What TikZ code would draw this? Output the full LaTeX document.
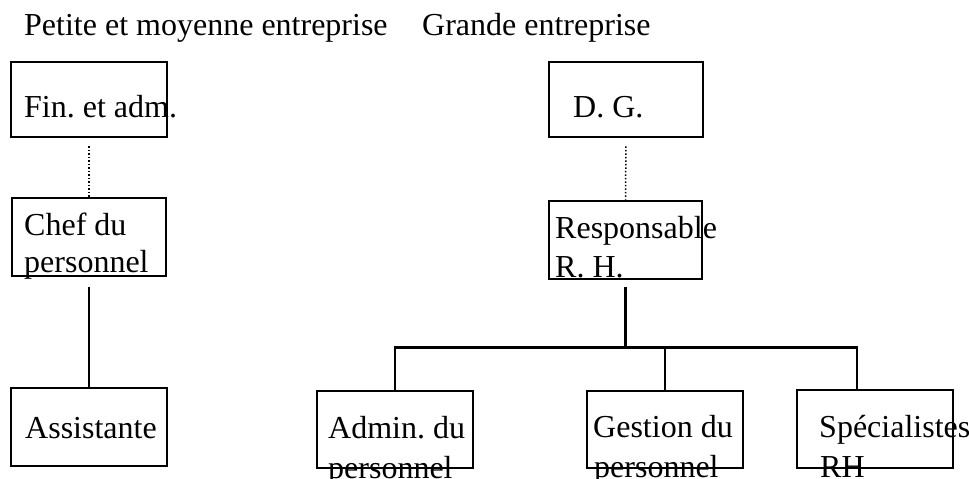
\documentclass[tikz,border=0pt]{standalone}
\usepackage{fontspec}
\setmainfont{Liberation Serif}
\frenchspacing
\begin{document}
\begin{tikzpicture}[x=1pt,y=-1pt,
  box/.style={draw=black, line width=2.8pt, rectangle, inner sep=0pt},
  lbl/.style={anchor=base west, inner sep=0pt, font=\fontsize{32}{38}\selectfont\frenchspacing},
  conn/.style={draw=black, line width=2.8pt},
  dotline/.style={draw=black, line width=1.5pt, dash pattern=on 1.5pt off 2pt, shorten <=8pt}]
\fill[white] (0,0) rectangle (969,479);
\useasboundingbox (0,0) rectangle (969,479);
% titles
\node[lbl] (tpme) at (24,35) {Petite et moyenne entreprise};
\node[lbl] (tge) at (422,35) {Grande entreprise};
% boxes
\node[box, minimum width=156pt, minimum height=75pt] (fin) at (89,99.5) {};
\node[box, minimum width=154pt, minimum height=78pt] (chef) at (89,237) {};
\node[box, minimum width=156pt, minimum height=78pt] (assist) at (89,427) {};
\node[box, minimum width=154pt, minimum height=75pt] (dg) at (626,99.5) {};
\node[box, minimum width=153pt, minimum height=78pt] (resp) at (625.5,240) {};
\node[box, minimum width=156pt, minimum height=77pt] (admin) at (395,429.5) {};
\node[box, minimum width=156pt, minimum height=77pt] (gestion) at (665,429.5) {};
\node[box, minimum width=156pt, minimum height=78pt] (spec) at (875,429) {};
% texts
\node[lbl] (finT) at (24,117) {Fin. et adm.};
\node[lbl] (dgT) at (573,117) {D. G.};
\node[lbl] (chefT1) at (24,235) {Chef du};
\node[lbl] (chefT2) at (24,272) {personnel};
\node[lbl] (respT1) at (555,238) {Responsable};
\node[lbl] (respT2) at (555,277) {R. H.};
\node[lbl] (assistT) at (25,438) {Assistante};
\node[lbl] (adminT1) at (328,438) {Admin. du};
\node[lbl] (adminT2) at (328,478) {personnel};
\node[lbl] (gestT1) at (593,437) {Gestion du};
\node[lbl] (gestT2) at (594,477) {personnel};
\node[lbl] (specT1) at (819,437) {Spécialistes};
\node[lbl] (specT2) at (820,477) {RH};
% connectors
\draw[dotline] (fin.south) -- (chef.north);
\draw[dotline] (dg.south) -- (resp.north);
\draw[conn, shorten <=10pt] (chef.south) -- (assist.north);
\coordinate (bus) at (0,347.5);
\coordinate (specdrop) at (857,390);
\draw[conn, shorten <=7pt] (resp.south) -- (resp.south |- bus);
\draw[conn] (admin.north) -- (admin.north |- bus) -- (specdrop |- bus) -- (specdrop);
\draw[conn] (gestion.north) -- (gestion.north |- bus);
\end{tikzpicture}
\end{document}
